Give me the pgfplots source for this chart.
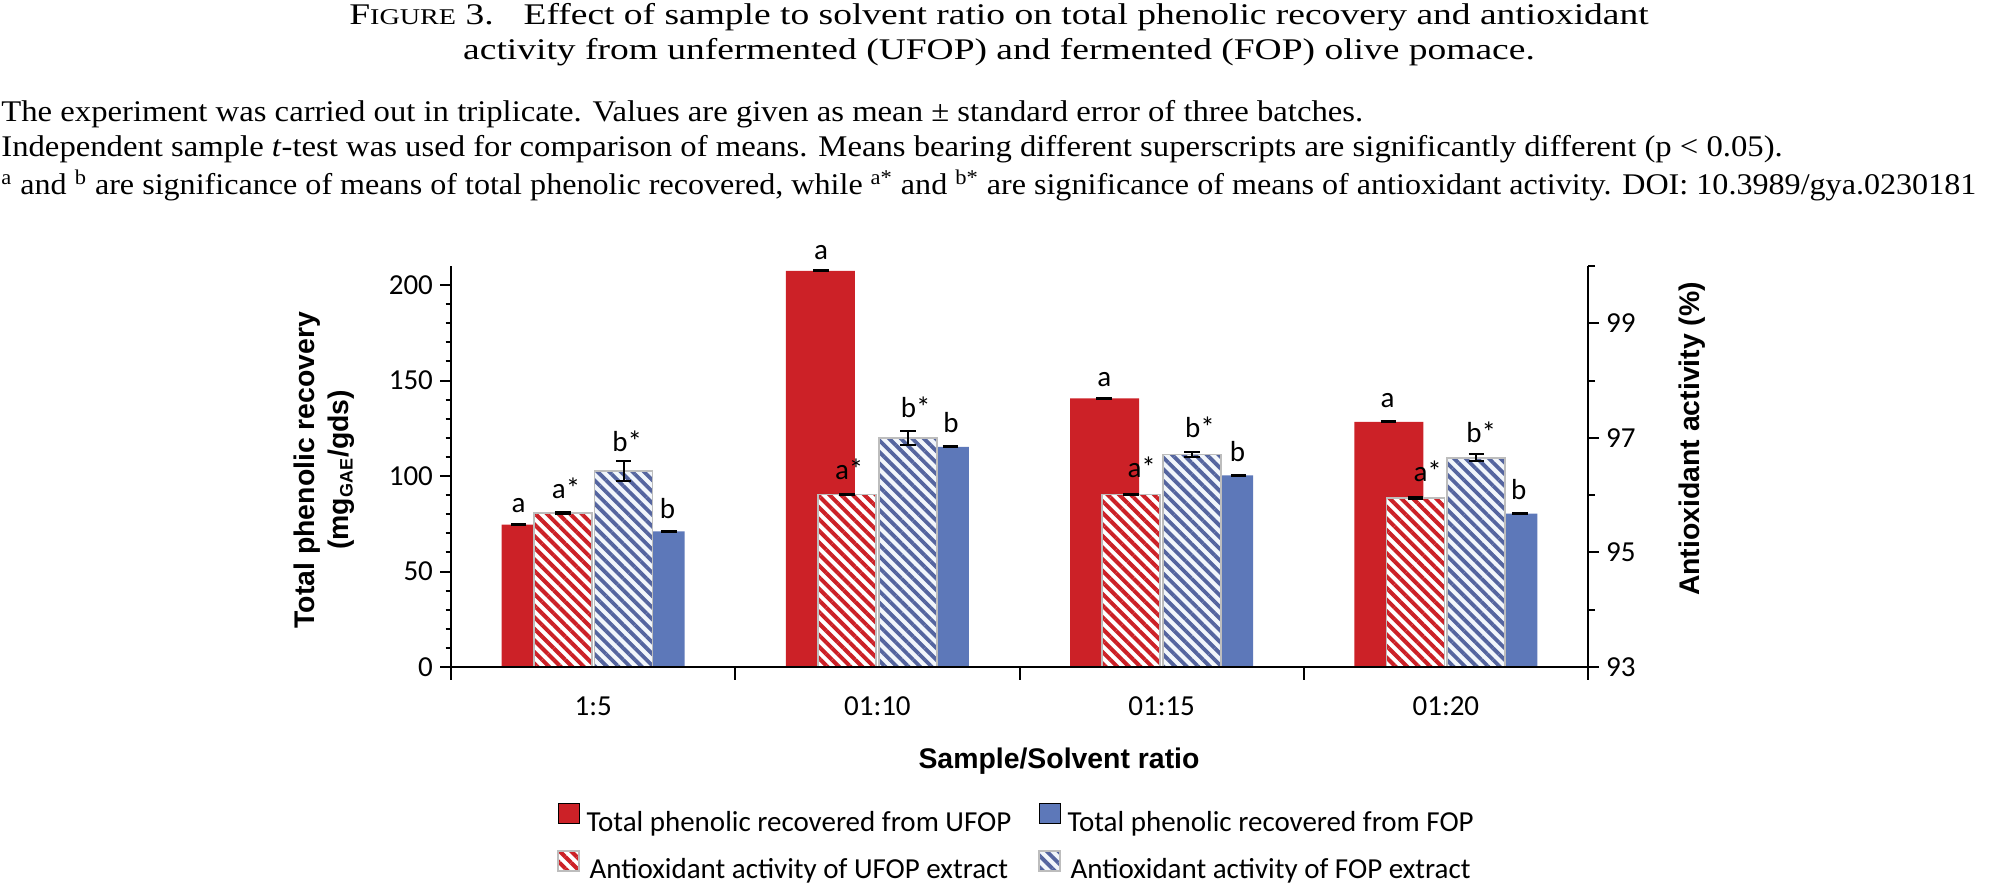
\documentclass[border=0pt]{standalone}
\usepackage{fontspec}
\usepackage{graphicx}
\setmainfont{Liberation Serif}
\newfontfamily\titlefont{Liberation Serif}[FakeStretch=1.25]
\newfontfamily\notefont{Liberation Serif}[FakeStretch=1.09]
\newfontfamily\carlito{Carlito}
\newfontfamily\arial{Liberation Sans}
\usepackage{pgfplots}
\pgfplotsset{compat=1.18}
\usetikzlibrary{patterns.meta}

\definecolor{ured}{HTML}{CC2127}
\definecolor{fblue}{HTML}{5D78B9}
\definecolor{hblue}{HTML}{55659F}
\definecolor{hbg}{HTML}{F2F6FB}
\definecolor{hedge}{HTML}{BDBDBD}

\tikzset{
  redhatch/.style={fill=white, postaction={pattern={Lines[angle=-45,distance=4.1pt,line width=2pt]},pattern color=ured}},
  bluehatch/.style={fill=hbg, postaction={pattern={Lines[angle=-45,distance=4.1pt,line width=1.9pt]},pattern color=hblue}},
}

\pgfplotsset{
  common/.style={
    at={(225.5pt,108pt)}, anchor=south west, scale only axis,
    width=568.5pt, height=200.5pt,
    xmin=-0.5, xmax=3.5,
    axis line style={line width=1pt, black},
    every tick/.style={black, line width=1pt},
    tick align=outside,
    ticklabel style={font=\carlito\fontsize{14.5}{17}\selectfont},
    /pgf/number format/assume math mode=true,
  },
  ebars/.style={
    error bars/.cd, y dir=both, y explicit,
    error bar style={draw=black, solid, line width=1pt},
    error mark options={rotate=90, draw=black, solid, line width=1pt, mark size=3.9pt},
    /pgfplots/.cd,
  },
}

\begin{document}
\begin{tikzpicture}
\path[use as bounding box] (0,0) rectangle (998pt,441.5pt);

% ---------- caption and notes ----------
\node[anchor=base, inner sep=0pt, font=\titlefont\fontsize{15}{18}\selectfont] at (499.5pt,429pt)
  {F{\fontsize{11.25}{13}\selectfont IGURE} 3.\quad Effect of sample to solvent ratio on total phenolic recovery and antioxidant};
\node[anchor=base, inner sep=0pt, font=\titlefont\fontsize{15}{18}\selectfont] at (499.5pt,411.5pt)
  {activity from unfermented (UFOP) and fermented (FOP) olive pomace.};
\node[anchor=base west, inner sep=0pt, font=\notefont\fontsize{15}{18}\selectfont] at (0.5pt,380.6pt)
  {The experiment was carried out in triplicate. Values are given as mean ± standard error of three batches.};
\node[anchor=base west, inner sep=0pt, font=\notefont\fontsize{15}{18}\selectfont] at (0.5pt,363.1pt)
  {Independent sample \textit{t}-test was used for comparison of means. Means bearing different superscripts are significantly different (p < 0.05).};
\node[anchor=base west, inner sep=0pt, font=\notefont\fontsize{15}{18}\selectfont] at (0.5pt,344pt)
  {\scalebox{0.982}[1]{\textsuperscript{a} and \textsuperscript{b} are significance of means of total phenolic recovered, while \textsuperscript{a*} and \textsuperscript{b*} are significance of means of antioxidant activity. DOI: 10.3989/gya.0230181}};

% ---------- primary axis: total phenolic recovery ----------
\begin{axis}[common,
  ymin=0, ymax=210,
  axis x line*=bottom, axis y line*=left,
  ybar,
  xtick={0,1,2,3}, xticklabels={1:5,01:10,01:15,01:20},
  xtick style={draw=none},
  xticklabel style={yshift=-6pt},
  ytick={0,50,100,150,200}, minor y tick num=4,
  major tick length=5.5pt, minor tick length=2.7pt,
  clip=true,
]
\addplot[fill=ured, draw=none, bar width=0.2427, bar shift=-0.2005]
  coordinates {(0,74.5) (1,207.5) (2,140.7) (3,128.4)};
\addplot[fill=fblue, draw=none, bar width=0.2427, bar shift=0.2005]
  coordinates {(0,71.0) (1,115.3) (2,100.3) (3,80.3)};
\end{axis}

% ---------- secondary axis: antioxidant activity ----------
\begin{axis}[common,
  ymin=93, ymax=100,
  axis x line=none, axis y line*=right,
  ybar,
  ytick={93,95,97,99}, minor ytick={94,96,98,100},
  major tick length=5.5pt, minor tick length=3.5pt,
  clip=true,
]
\addplot[redhatch, draw=hedge, line width=0.9pt, bar width=0.204, bar shift=-0.107, ebars]
  coordinates {(0,95.69) +- (0,0.015) (1,96.01) +- (0,0.015) (2,96.01) +- (0,0.015) (3,95.95) +- (0,0.015)};
\addplot[bluehatch, draw=hedge, line width=0.9pt, bar width=0.204, bar shift=0.107, ebars]
  coordinates {(0,96.42) +- (0,0.17) (1,97.00) +- (0,0.12) (2,96.71) +- (0,0.04) (3,96.65) +- (0,0.06)};
\end{axis}

% ---------- overlay: x ticks, error bars of phenolic series, letters, legend ----------
\begin{axis}[common,
  ymin=0, ymax=210,
  axis x line*=bottom, axis y line=none,
  xtick={-0.5,0.5,1.5,2.5,3.5}, xticklabels={},
  major tick length=6.5pt,
  clip=false,
  legend columns=2,
  legend image code/.code={\path[#1] (0pt,-0.5pt) rectangle (10.5pt,9.5pt); \path (12pt,0pt);},
  legend style={at={(0.0932,-0.3391)}, anchor=north west, draw=none, fill=none,
    inner sep=0pt, font=\carlito\fontsize{14.5}{17}\selectfont,
    /tikz/every even column/.append style={column sep=11.5pt}, row sep=6pt},
]
\addplot[forget plot, draw=none, mark=none, ebars]
  coordinates {(-0.262,74.5) +- (0,0.3) (0.802,207.5) +- (0,0.3) (1.798,140.7) +- (0,0.3) (2.798,128.4) +- (0,0.3)};
\addplot[forget plot, draw=none, mark=none, ebars]
  coordinates {(0.266,71.0) +- (0,0.3) (1.257,115.3) +- (0,0.3) (2.271,100.3) +- (0,0.3) (3.260,80.3) +- (0,0.3)};

\addlegendimage{fill=ured}
\addlegendentry{Total phenolic recovered from UFOP}
\addlegendimage{fill=fblue}
\addlegendentry{Total phenolic recovered from FOP}
\addlegendimage{redhatch, draw=hedge, line width=0.6pt}
\addlegendentry{Antioxidant activity of UFOP extract}
\addlegendimage{bluehatch, draw=hedge, line width=0.6pt}
\addlegendentry{Antioxidant activity of FOP extract}

\tikzset{lab/.style={anchor=base, inner sep=0pt, font=\carlito\fontsize{14.5}{17}\selectfont}}
\node[lab] at (axis cs:-0.262,80.8) {a};
\node[lab] at (axis cs:-0.095,88.2) {a*};
\node[lab] at (axis cs:0.120,112.9) {b*};
\node[lab] at (axis cs:0.262,77.7) {b};
\node[lab] at (axis cs:0.802,213.6) {a};
\node[lab] at (axis cs:0.901,98.2) {a*};
\node[lab] at (axis cs:1.135,130.7) {b*};
\node[lab] at (axis cs:1.259,123.0) {b};
\node[lab] at (axis cs:1.798,147.1) {a};
\node[lab] at (axis cs:1.930,99.2) {a*};
\node[lab] at (axis cs:2.135,120.2) {b*};
\node[lab] at (axis cs:2.267,107.8) {b};
\node[lab] at (axis cs:2.795,136.0) {a};
\node[lab] at (axis cs:2.936,97.3) {a*};
\node[lab] at (axis cs:3.124,117.7) {b*};
\node[lab] at (axis cs:3.256,87.7) {b};
\end{axis}

% ---------- axis titles ----------
\node[rotate=90, align=center, inner sep=0pt, font=\arial\bfseries\fontsize{14.2}{17}\selectfont] at (162pt,206.5pt)
  {Total phenolic recovery\\(mg\textsubscript{\fontsize{9}{10}\selectfont GAE}/gds)};
\node[rotate=90, inner sep=0pt, font=\arial\bfseries\fontsize{14.2}{17}\selectfont] at (846.3pt,222pt)
  {Antioxidant activity (\%)};
\node[anchor=base, inner sep=0pt, font=\arial\bfseries\fontsize{14.2}{17}\selectfont] at (529.5pt,57pt)
  {Sample/Solvent ratio};
\end{tikzpicture}
\end{document}
